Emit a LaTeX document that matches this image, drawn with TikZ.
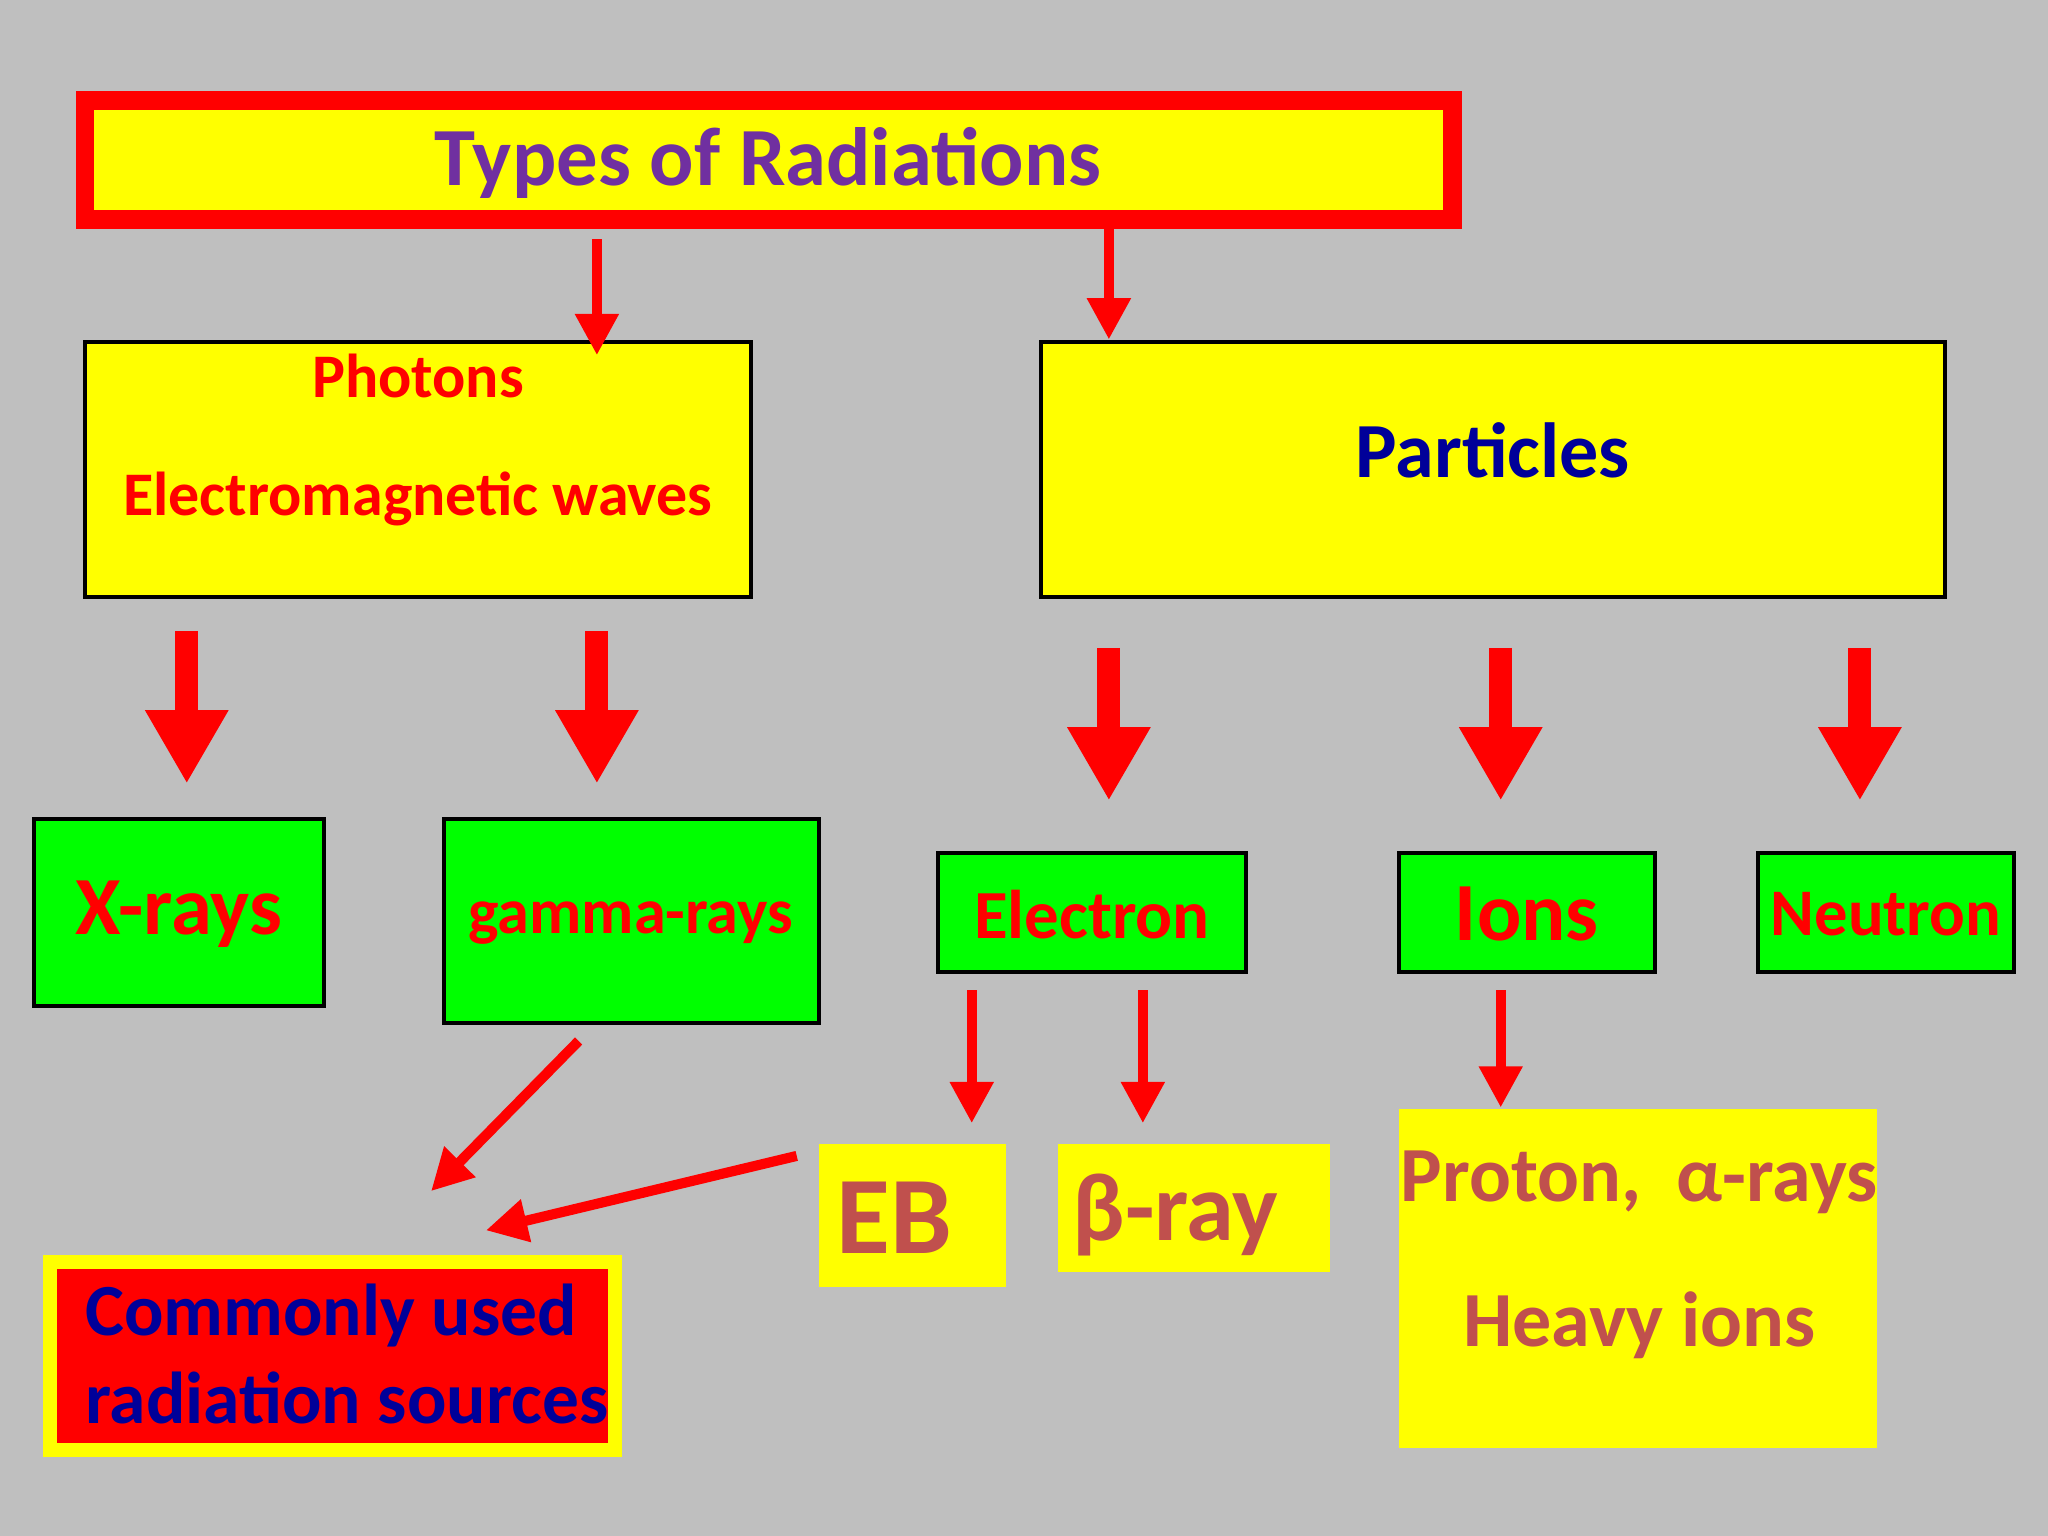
\documentclass[tikz,border=0pt]{standalone}
\usepackage{fontspec}
\setmainfont{Carlito}
\usetikzlibrary{arrows.meta}
\definecolor{bg}{HTML}{BFBFBF}
\definecolor{ry}{HTML}{FFFF00}
\definecolor{rg}{HTML}{00FF00}
\definecolor{rr}{HTML}{FF0000}
\definecolor{purp}{HTML}{7030A0}
\definecolor{dblue}{HTML}{000099}
\definecolor{brn}{HTML}{C0504D}
\begin{document}
\begin{tikzpicture}[x=0.01cm,y=-0.01cm,
  ybox/.style={fill=ry,draw=black,line width=0.8pt},
  gbox/.style={fill=rg,draw=black,line width=0.8pt},
  pbox/.style={fill=ry,draw=none},
  thin arr/.style={draw=rr,line width=2.2pt,-{Triangle[length=9pt,width=9pt]}},
  thick arr/.style={draw=rr,line width=5pt,-{Triangle[length=16pt,width=17pt]}},
  lbl/.style={font=\bfseries}]
\fill[bg] (0,0) rectangle (1568,1176);
\draw[fill=ry,draw=rr,line width=4pt] (65,77) rectangle (1112,168);
\node[lbl,text=purp,font=\bfseries\fontsize{18}{20}\selectfont] (title) at (588,125) {Types of Radiations};
\draw[ybox] (65,262) rectangle (575,457);
\draw[ybox] (797,262) rectangle (1489,457);
\node[text=rr,font=\bfseries\fontsize{13.5}{16}\selectfont] (ph) at (320,288) {Photons};
\node[text=rr,font=\bfseries\fontsize{13.5}{16}\selectfont] (em) at (320,382) {Electromagnetic waves};
\node[text=dblue,font=\bfseries\fontsize{17}{20}\selectfont] (pa) at (1143,345) {Particles};
\coordinate (t1) at (457,183); \coordinate (t1e) at (457,272);
\coordinate (t2) at (849,172); \coordinate (t2e) at (849,260);
\draw[thin arr] (t1) -- (t1e);
\draw[thin arr] (t2) -- (t2e);
\foreach \x/\a/\b in {143/483/600,457/483/600,849/496/613,1149/496/613,1424/496/613}
  \draw[thick arr] (\x,\a) -- (\x,\b);
\draw[gbox] (26,627) rectangle (248,770);
\draw[gbox] (340,627) rectangle (627,783);
\draw[gbox] (718,653) rectangle (954,744);
\draw[gbox] (1071,653) rectangle (1267,744);
\draw[gbox] (1346,653) rectangle (1542,744);
\node[text=rr,font=\bfseries\fontsize{18}{20}\selectfont] (xr) at (137,700) {X-rays};
\node[text=rr,font=\bfseries\fontsize{14}{16}\selectfont] (gr) at (483,707) {gamma-rays};
\node[text=rr,font=\bfseries\fontsize{15}{16}\selectfont] (el) at (836,700) {Electron};
\node[text=rr,font=\bfseries\fontsize{18}{20}\selectfont] (io) at (1169,700) {Ions};
\node[text=rr,font=\bfseries\fontsize{14.5}{16}\selectfont] (ne) at (1444,700) {Neutron};
\draw[thin arr] (744,758) -- (744,860);
\draw[thin arr] (875,758) -- (875,860);
\draw[thin arr] (1149,758) -- (1149,848);
\fill[ry] (627,876) rectangle (770,985);
\fill[ry] (810,876) rectangle (1018,974);
\fill[ry] (1071,849) rectangle (1437,1109);
\node[text=brn,font=\bfseries\fontsize{24}{26}\selectfont] (eb) at (685,932) {EB};
\node[text=brn,font=\bfseries\fontsize{21}{24}\selectfont] (br) at (900,930) {β-ray};
\node[text=brn,font=\bfseries\fontsize{17}{20}\selectfont] (pr) at (1255,905) {Proton,~ α-rays};
\node[text=brn,font=\bfseries\fontsize{17}{20}\selectfont] (hi) at (1255,1015) {Heavy ions};
\draw[thin arr] (443,797) -- (330,912);
\draw[thin arr] (610,885) -- (372,942);
\draw[fill=rr,draw=ry,line width=3pt] (38,966) rectangle (471,1110);
\node[text=dblue,font=\bfseries\fontsize{16}{22}\selectfont,anchor=west] (c1) at (53,1007) {Commonly used};
\node[text=dblue,font=\bfseries\fontsize{16}{22}\selectfont,anchor=west] (c2) at (53,1070) {radiation sources};
\end{tikzpicture}
\end{document}
